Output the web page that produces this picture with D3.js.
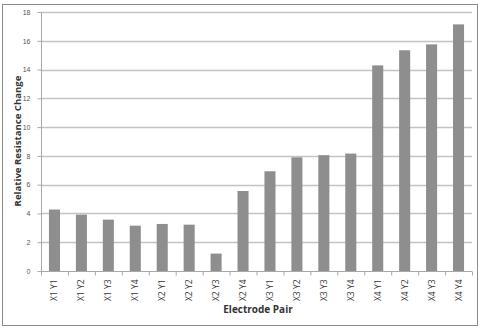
<!DOCTYPE html>
<html>
<head>
<meta charset="utf-8">
<script src="https://cdn.jsdelivr.net/npm/d3@7"></script>
<style>
  body { margin: 0; background: #fff; }
  svg { display: block; font-family: "Open Sans", "Liberation Sans", sans-serif; }
</style>
</head>
<body>
<script>
// electrode pairs and their relative resistance change
var pairs = ["X1 Y1", "X1 Y2", "X1 Y3", "X1 Y4", "X2 Y1", "X2 Y2", "X2 Y3", "X2 Y4",
             "X3 Y1", "X3 Y2", "X3 Y3", "X3 Y4", "X4 Y1", "X4 Y2", "X4 Y3", "X4 Y4"];
var changes = [4.27, 3.92, 3.57, 3.15, 3.27, 3.22, 1.21, 5.56,
               6.93, 7.9, 8.05, 8.16, 14.29, 15.34, 15.75, 17.14];
var yTicks = [0, 2, 4, 6, 8, 10, 12, 14, 16, 18];

var W = 485, H = 328;
var m = {top: 12, right: 13, bottom: 57, left: 41};

var svg = d3.select("body").append("svg").attr("width", W).attr("height", H);

// outer frame
svg.append("rect").attr("x", 2.5).attr("y", 4.5).attr("width", 475).attr("height", 321)
  .attr("fill", "#fff").attr("stroke", "#8a8a8a").attr("stroke-width", 1);

var x = d3.scaleBand().domain(pairs).range([m.left, W - m.right]).paddingInner(0.59).paddingOuter(0.295);
var y = d3.scaleLinear().domain([0, 18]).range([H - m.bottom, m.top]);

// gridlines
svg.append("g").selectAll("line").data(yTicks.slice(1)).enter().append("line")
  .attr("x1", m.left).attr("x2", W - m.right)
  .attr("y1", function(d) { return Math.round(y(d)) + 0.5; })
  .attr("y2", function(d) { return Math.round(y(d)) + 0.5; })
  .attr("stroke", "#c4c4c4").attr("stroke-width", 1.3);

// bars
svg.append("g").selectAll("rect").data(changes).enter().append("rect")
  .attr("x", function(d, i) { return x(pairs[i]); })
  .attr("width", x.bandwidth())
  .attr("y", function(d) { return y(d); })
  .attr("height", function(d) { return y(0) - y(d); })
  .attr("fill", "#8e8e8e");

// y axis
var yAxis = svg.append("g").attr("transform", "translate(" + (m.left + 0.5) + ",0)")
  .call(d3.axisLeft(y).tickValues(yTicks).tickSize(4).tickPadding(7));
yAxis.select(".domain").attr("stroke", "#a8a8a8").attr("d", "M0," + y(18) + "V" + y(0));
yAxis.selectAll(".tick line").attr("stroke", "#a8a8a8");
yAxis.selectAll("text").attr("fill", "#555").style("font-size", "7px");

// x axis with ticks between categories
var step = x.step();
var xg = svg.append("g").attr("transform", "translate(0," + (Math.round(y(0)) + 0.5) + ")");
xg.append("line").attr("x1", m.left).attr("x2", W - m.right).attr("stroke", "#a8a8a8");
xg.selectAll("line.tk").data(d3.range(pairs.length + 1)).enter().append("line")
  .attr("class", "tk")
  .attr("x1", function(i) { return m.left + i * step + 0.5; })
  .attr("x2", function(i) { return m.left + i * step + 0.5; })
  .attr("y1", 0).attr("y2", 4).attr("stroke", "#a8a8a8");
xg.selectAll("text").data(pairs).enter().append("text")
  .attr("transform", function(d) {
    return "translate(" + (x(d) + x.bandwidth() / 2 + 3) + ",8) rotate(-90)";
  })
  .attr("text-anchor", "end")
  .attr("fill", "#333")
  .style("font-size", "8.5px")
  .text(function(d) { return d; });

// titles
svg.append("text").attr("x", 258).attr("y", 313).attr("text-anchor", "middle")
  .style("font-size", "10px").style("font-weight", "bold").attr("fill", "#333")
  .text("Electrode Pair");
svg.append("text").attr("transform", "translate(21,141) rotate(-90)")
  .attr("text-anchor", "middle")
  .style("font-size", "9.6px").style("font-weight", "bold").attr("fill", "#333")
  .text("Relative Resistance Change");
</script>
</body>
</html>
